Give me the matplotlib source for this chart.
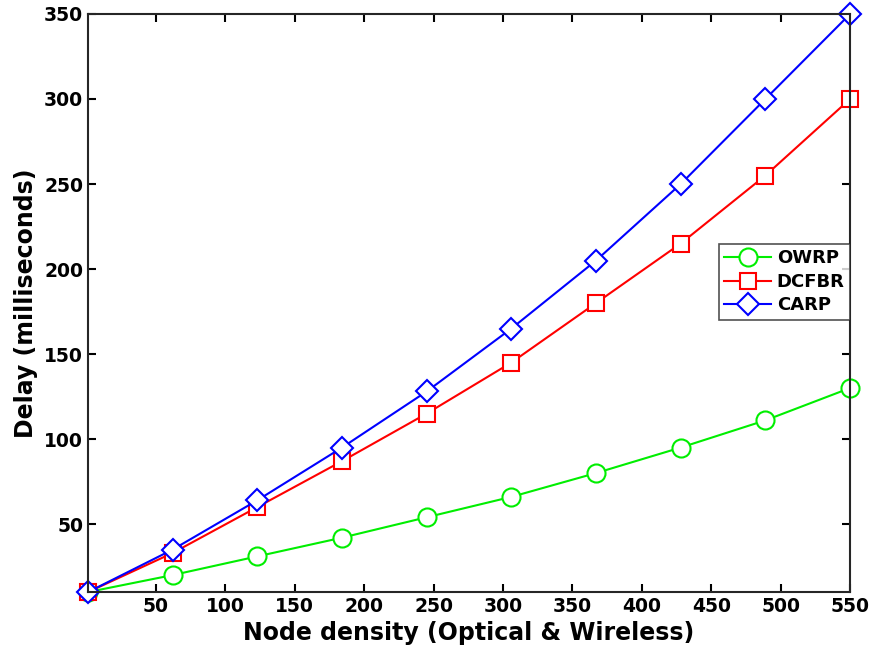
import matplotlib
matplotlib.use("Agg")
from matplotlib import pyplot as plt

# node density values
nodes = [1, 62, 123, 184, 245, 306, 367, 428, 489, 550]
# delay (ms) per protocol
owrp = [10, 20, 31, 42, 54, 66, 80, 95, 111, 130]
dcfbr = [10, 33, 60, 87, 115, 145, 180, 215, 255, 300]
carp = [10, 35, 64, 95, 128, 165, 205, 250, 300, 350]

plt.rcParams['font.family'] = ['DejaVu Sans']
plt.rcParams['font.weight'] = 'bold'

fig = plt.figure(figsize=(8.8, 6.66), dpi=100)
ax = fig.add_axes([0.1, 0.111, 0.866, 0.868])

ax.plot(nodes, owrp, color='#00ee00', lw=1.5, marker='o', ms=13,
        mfc='white', mec='#00ee00', mew=1.5, label='OWRP', clip_on=False)
ax.plot(nodes, dcfbr, color='#ff0000', lw=1.5, marker='s', ms=11,
        mfc='white', mec='#ff0000', mew=1.5, label='DCFBR', clip_on=False)
ax.plot(nodes, carp, color='#0000ff', lw=1.5, marker='D', ms=11,
        mfc='white', mec='#0000ff', mew=1.5, label='CARP', clip_on=False)

ax.set_xlim(1, 550)
ax.set_ylim(10, 350)
ax.set_xticks(range(50, 551, 50))
ax.set_yticks(range(50, 351, 50))
ax.tick_params(direction='in', top=True, right=True, labelsize=13.5, width=1.5, length=6)
for lab in ax.get_xticklabels() + ax.get_yticklabels():
    lab.set_fontweight('bold')
for s in ax.spines.values():
    s.set_linewidth(1.5)
    s.set_color('#262626')

ax.set_xlabel('Node density (Optical & Wireless)', fontsize=17, fontweight='bold')
ax.set_ylabel('Delay (milliseconds)', fontsize=17, fontweight='bold')

leg = ax.legend(loc='upper right', bbox_to_anchor=(1.0, 0.602), borderaxespad=0,
                fancybox=False, edgecolor='#262626', fontsize=13,
                handlelength=2.6, handletextpad=0.3, borderpad=0.3, labelspacing=0.3)
leg.get_frame().set_linewidth(1.2)
for t in leg.get_texts():
    t.set_fontweight('bold')

fig.savefig('out.png', dpi=100)
